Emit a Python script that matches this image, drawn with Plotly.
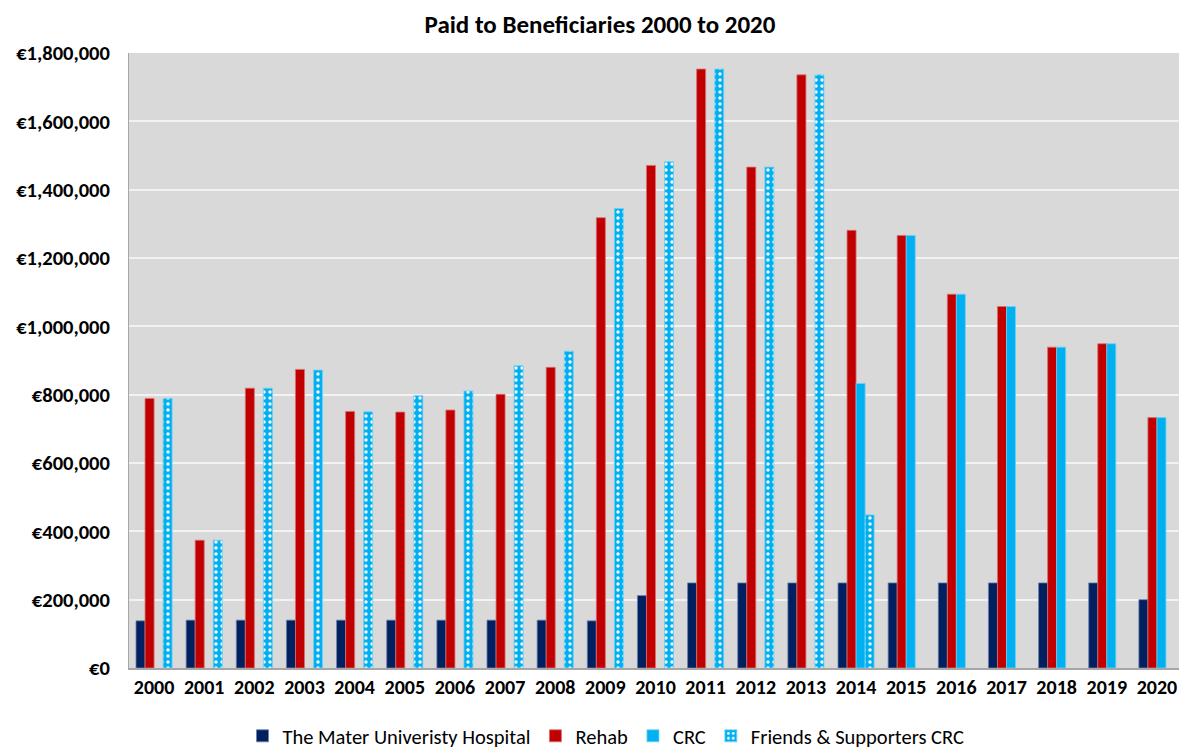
import plotly.graph_objects as go

years = [str(y) for y in range(2000, 2021)]

mater = [138000, 140000, 140000, 140000, 140000, 140000, 140000, 140000, 140000, 138000,
         212000, 249000, 249000, 249000, 249000, 249000, 249000, 249000, 249000, 249000, 200000]
rehab = [789000, 374000, 819000, 874000, 751000, 749000, 755000, 801000, 880000, 1318000,
         1471000, 1753000, 1466000, 1736000, 1281000, 1266000, 1094000, 1058000, 939000, 949000, 733000]
crc = [None] * 14 + [833000, 1266000, 1094000, 1058000, 939000, 949000, 733000]
friends = [789000, 374000, 819000, 872000, 750000, 797000, 811000, 885000, 927000, 1345000,
           1482000, 1753000, 1466000, 1736000, 448000] + [None] * 6

names = ["The Mater Univeristy Hospital", "Rehab", "CRC", "Friends & Supporters CRC"]
colors = ["#002060", "#C00000", "#00B0F0", "#00B0F0"]
line_colors = ["#6B7FA8", "#D87070", "#6FD0F5", "#6FD0F5"]

FONT = "Calibri, Carlito, Lato, sans-serif"
W, H = 1187, 749
OFF = 8  # page body margin offset

fig = go.Figure()
for i, (name, vals) in enumerate(zip(names, [mater, rehab, crc, friends])):
    marker = dict(color=colors[i], line=dict(color=line_colors[i], width=0.8))
    if i == 3:
        marker["pattern"] = dict(shape=".", fgcolor="white", bgcolor=colors[i],
                                 size=6, solidity=0.25, fillmode="replace")
    fig.add_trace(go.Bar(x=years, y=vals, name=name, marker=marker))

fig.update_layout(
    width=W, height=H,
    barmode="group", bargap=0.28, bargroupgap=0,
    paper_bgcolor="white", plot_bgcolor="#D9D9D9",
    margin=dict(l=129 - OFF, r=W - (1182 - OFF), t=53 - OFF, b=H - (668 - OFF), autoexpand=False),
    title=dict(text="<b>Paid to Beneficiaries 2000 to 2020</b>", x=(600 - OFF) / W, xanchor="center",
               xref="container", yref="container",
               y=1 - (24 - OFF) / H, yanchor="middle", font=dict(family=FONT, size=25, color="black")),
    font=dict(family=FONT, color="black"),
    legend=dict(orientation="h", x=(606 - OFF) / W, xanchor="center", xref="container",
                yref="container", y=(H - (736 - OFF)) / H, yanchor="middle",
                font=dict(family=FONT, size=20.5, color="black"), traceorder="normal",
                itemwidth=30, tracegroupgap=0),
    showlegend=True,
)
fig.update_xaxes(
    type="category", showline=True, linecolor="#A6A6A6", linewidth=2,
    tickfont=dict(family=FONT, size=20, color="black", weight="bold"),
    ticks="", showgrid=False, automargin=False,
)
fig.update_yaxes(
    range=[0, 1800000], dtick=200000, tickprefix="€", tickformat=",",
    showgrid=True, gridcolor="#F2F2F2", gridwidth=2,
    showline=True, linecolor="#A6A6A6", linewidth=1,
    tickfont=dict(family=FONT, size=20.5, color="black", weight="bold"),
    ticks="", ticklabelstandoff=14, zeroline=False, automargin=False,
)

fig.write_html("out.html")
